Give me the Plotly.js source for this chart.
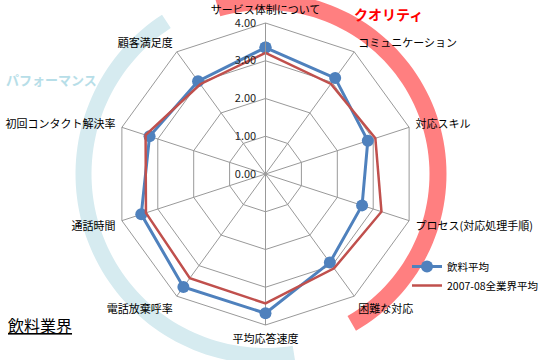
<!DOCTYPE html>
<html><head><meta charset="utf-8">
<script src="https://cdn.plot.ly/plotly-3.0.1.min.js"></script>
<style>html,body{margin:0;padding:0;background:#fff}</style>
</head><body><div id="chart" style="width:544px;height:360px"></div>
<script>
// ---- data ----
const categories = ['サービス体制について','コミュニケーション','対応スキル','プロセス(対応処理手順)','困難な対応','平均応答速度','電話放棄呼率','通話時間','初回コンタクト解決率','顧客満足度'];
const beverageAvg = [3.35, 3.14, 2.85, 2.69, 2.90, 3.69, 3.70, 3.46, 3.23, 3.04];
const allIndustryAvg = [3.21, 2.95, 3.06, 3.23, 3.09, 3.43, 3.41, 3.33, 3.34, 2.94];
const radialTicks = [0, 1, 2, 3, 4];
const radialTickLabels = ['0.00', '1.00', '2.00', '3.00', '4.00'];
const seriesNames = ['飲料平均', '2007-08全業界平均'];

// ---- layout constants ----
const W = 544, H = 360, CX = 265.5, CY = 174, R = 151;
const FONT = '"Noto Sans CJK JP", "Noto Sans", sans-serif';

function close(arr) { return arr.concat([arr[0]]); }

// decorative band (angles in degrees, clockwise from top)
function bandPath(r0, r1, a0, a1) {
  const pts = [], n = 80;
  for (let i = 0; i <= n; i++) {
    const a = (a0 + (a1 - a0) * i / n) * Math.PI / 180;
    pts.push([CX + r1 * Math.sin(a), CY - r1 * Math.cos(a)]);
  }
  for (let i = n; i >= 0; i--) {
    const a = (a0 + (a1 - a0) * i / n) * Math.PI / 180;
    pts.push([CX + r0 * Math.sin(a), CY - r0 * Math.cos(a)]);
  }
  return 'M' + pts.map(p => (p[0] / W).toFixed(5) + ',' + (1 - p[1] / H).toFixed(5)).join('L') + 'Z';
}

const traces = [
  {
    type: 'scatterpolar', mode: 'lines+markers', name: seriesNames[0],
    theta: close(categories), r: close(beverageAvg),
    line: {color: '#4F81BD', width: 3},
    marker: {color: '#4F81BD', size: 12, symbol: 'circle'}
  },
  {
    type: 'scatterpolar', mode: 'lines', name: seriesNames[1],
    theta: close(categories), r: close(allIndustryAvg),
    line: {color: '#C0504D', width: 2.5}
  }
];

const layout = {
  width: W, height: H,
  margin: {l: 0, r: 0, t: 0, b: 0, autoexpand: false},
  paper_bgcolor: '#fff',
  font: {family: FONT, size: 11, color: '#000'},
  showlegend: true,
  legend: {x: 1, y: 1 - 252 / H, xanchor: 'right', yanchor: 'top', itemwidth: 30,
           font: {family: FONT, size: 10.5, color: '#000'}, bgcolor: 'rgba(0,0,0,0)', traceorder: 'normal'},
  polar: {
    domain: {x: [(CX - R) / W, (CX + R) / W], y: [1 - (CY + R) / H, 1 - (CY - R) / H]},
    gridshape: 'linear',
    bgcolor: 'rgba(0,0,0,0)',
    angularaxis: {
      rotation: 90, direction: 'clockwise',
      showline: true, linecolor: '#999', linewidth: 1,
      gridcolor: '#999', gridwidth: 1,
      ticks: 'outside', ticklen: 4, tickcolor: 'rgba(0,0,0,0)',
      tickfont: {family: FONT, size: 11, color: '#000'}
    },
    radialaxis: {
      range: [0, 4], tickvals: radialTicks, ticktext: radialTickLabels,
      angle: 90, side: 'counterclockwise', tickangle: 90,
      showline: true, linecolor: '#999', linewidth: 1,
      gridcolor: '#999', gridwidth: 1,
      ticks: 'outside', ticklen: 5, tickcolor: 'rgba(0,0,0,0)',
      tickfont: {family: FONT, size: 11, color: '#222'}
    }
  },
  shapes: [
    {type: 'path', xref: 'paper', yref: 'paper', layer: 'below', path: bandPath(164, 181, -16, 150),
     fillcolor: '#FF7F80', line: {width: 0}},
    {type: 'path', xref: 'paper', yref: 'paper', layer: 'below', path: bandPath(174, 190, 171, 327),
     fillcolor: '#D6EBF0', line: {width: 0}}
  ],
  annotations: [
    {text: 'クオリティ', xref: 'paper', yref: 'paper', x: 388 / W, y: 1 - 14 / H, xanchor: 'center', yanchor: 'middle',
     showarrow: false, font: {family: FONT, size: 14, color: '#FF0000', weight: 'bold'}},
    {text: 'パフォーマンス', xref: 'paper', yref: 'paper', x: 51 / W, y: 1 - 79 / H, xanchor: 'center', yanchor: 'middle',
     showarrow: false, font: {family: FONT, size: 13, color: '#B7DEE8', weight: 'bold'}},
    {text: '<span style="text-decoration:underline">飲料業界</span>', xref: 'paper', yref: 'paper', x: 6 / W, y: 1 - 325 / H,
     xanchor: 'left', yanchor: 'middle', showarrow: false, font: {family: FONT, size: 16, color: '#000'}}
  ]
};

Plotly.newPlot('chart', traces, layout, {displayModeBar: false, responsive: false});
</script>
</body></html>
